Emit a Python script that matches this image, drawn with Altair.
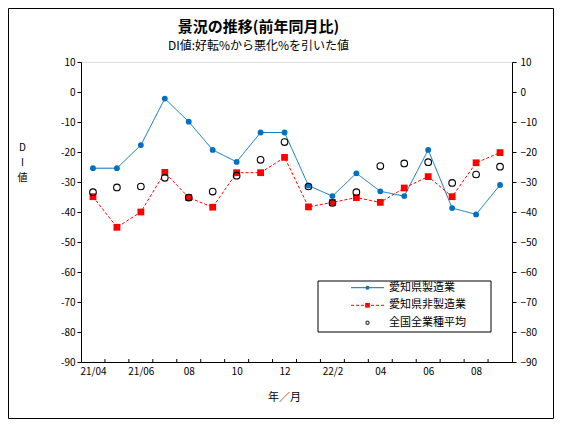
import altair as alt
import pandas as pd

# ---------------- data ----------------
tick_labels = ["21/04", "", "21/06", "", "08", "", "10", "", "12", "",
               "22/2", "", "04", "", "06", "", "08", ""]
series_names = ["愛知県製造業", "愛知県非製造業", "全国全業種平均"]
mfg = [-25.4, -25.4, -17.7, -2.2, -9.9, -19.3, -23.3, -13.5, -13.5,
       -31.2, -34.7, -27.1, -33.1, -34.7, -19.3, -38.7, -40.8, -31.0]
nonmfg = [-34.9, -45.1, -40.0, -26.8, -35.2, -38.4, -26.9, -26.9, -21.8,
          -38.3, -36.8, -35.2, -36.8, -32.0, -28.2, -34.9, -23.6, -20.2]
national = [-33.4, -31.8, -31.5, -28.6, -35.2, -33.2, -27.9, -22.6, -16.7,
            -31.5, -37.0, -33.4, -24.7, -23.8, -23.4, -30.3, -27.5, -24.9]
y_ticks = [-90, -80, -70, -60, -50, -40, -30, -20, -10, 0, 10]

n = len(tick_labels)
idx = list(range(n))
df = pd.DataFrame({
    "idx": idx * 3,
    "value": mfg + nonmfg + national,
    "series": [s for s in series_names for _ in idx],
})
bounds = pd.DataFrame({"b": [i + 0.5 for i in range(n - 1)]})

# ---------------- style ----------------
W, H = 431, 300
FONT = "Noto Sans CJK JP"
BLUE = "#0070c0"
RED = "#ff0000"

xscale = alt.Scale(domain=[-0.5, n - 0.5], nice=False, zero=False)
yscale = alt.Scale(domain=[-90, 10], nice=False, zero=False)
label_js = "[" + ",".join("'%s'" % t for t in tick_labels) + "]"

xaxis = alt.Axis(
    values=[i for i, t in enumerate(tick_labels) if t],
    labelExpr=label_js + "[datum.value]",
    ticks=False, grid=False, domainColor="black", domainWidth=1,
    labelFont=FONT, labelFontSize=10, labelColor="black", labelPadding=4,
    title="年／月", titleFont=FONT, titleFontSize=11, titleFontWeight="normal",
    titleColor="black", titleX=203, titleY=35, titleAlign="center",
    titleBaseline="middle",
)
yaxis_left = alt.Axis(
    values=y_ticks, orient="left", grid=False,
    labelExpr="replace(datum.label, '−', '-')",
    domainColor="black", tickColor="black", tickSize=4, labelPadding=2,
    labelFont=FONT, labelFontSize=10, labelColor="black",
    title=["D", "I", "値"], titleAngle=0, titleX=-59, titleY=80,
    titleAlign="center", titleBaseline="top", titleFont=FONT,
    titleFontSize=10, titleFontWeight="normal", titleColor="black",
    titleLineHeight=15,
)
yaxis_right = alt.Axis(
    values=y_ticks, orient="right", grid=False,
    domainColor="black", tickColor="black", tickSize=4, labelPadding=4,
    labelFont=FONT, labelFontSize=10, labelColor="black", title=None,
)

X = alt.X("idx:Q", scale=xscale, axis=xaxis)
Xn = alt.X("idx:Q", scale=xscale, axis=None)
Yn = alt.Y("value:Q", scale=yscale, axis=None)

base = alt.Chart(df)

lines = base.transform_filter(
    alt.FieldOneOfPredicate(field="series", oneOf=series_names[:2])
).mark_line(strokeWidth=1).encode(
    x=X,
    y=alt.Y("value:Q", scale=yscale, axis=yaxis_left),
    color=alt.Color("series:N", scale=alt.Scale(domain=series_names, range=[BLUE, RED, "black"]), legend=None),
    strokeDash=alt.StrokeDash("series:N", scale=alt.Scale(domain=series_names, range=[[1, 0], [3, 2], [1, 0]]), legend=None),
    order="idx:Q",
)

blue_pts = base.transform_filter(alt.datum.series == series_names[0]).mark_point(
    shape="circle", filled=True, size=34, color=BLUE, opacity=1
).encode(x=Xn, y=Yn)

red_pts = base.transform_filter(alt.datum.series == series_names[1]).mark_point(
    shape="square", filled=True, size=46, color=RED, opacity=1
).encode(x=Xn, y=Yn)

nat_pts = base.transform_filter(alt.datum.series == series_names[2]).mark_point(
    shape="circle", filled=False, size=44, color="black", strokeWidth=1.1, opacity=1
).encode(x=Xn, y=Yn)

right_axis = base.mark_point(opacity=0).encode(
    x=Xn, y=alt.Y("value:Q", scale=yscale, axis=yaxis_right)
)

xticks = alt.Chart(bounds).mark_rule(color="black", strokeWidth=1).encode(
    x=alt.X("b:Q", scale=xscale, axis=None),
    y=alt.value(H), y2=alt.value(H - 3),
)

# ---------------- legend (drawn by hand) ----------------
one = alt.Data(values=[{}])
LX0, LX1, LY0, LY1 = 237, 410, 219, 270
rows = [225.7, 243.3, 260.7]
legend_layers = [
    alt.Chart(one).mark_rect(fill="white", stroke="black", strokeWidth=1).encode(
        x=alt.value(LX0), x2=alt.value(LX1), y=alt.value(LY0), y2=alt.value(LY1)
    )
]
legend_layers.append(alt.Chart(one).mark_rule(color=BLUE, strokeWidth=1).encode(
    x=alt.value(270), x2=alt.value(303), y=alt.value(rows[0])))
legend_layers.append(alt.Chart(one).mark_point(shape="circle", filled=True, size=16, color=BLUE, opacity=1).encode(
    x=alt.value(286.5), y=alt.value(rows[0])))
legend_layers.append(alt.Chart(one).mark_rule(color=RED, strokeWidth=1, strokeDash=[3, 2]).encode(
    x=alt.value(270), x2=alt.value(303), y=alt.value(rows[1])))
legend_layers.append(alt.Chart(one).mark_point(shape="square", filled=True, size=22, color=RED, opacity=1).encode(
    x=alt.value(286.5), y=alt.value(rows[1])))
legend_layers.append(alt.Chart(one).mark_point(shape="circle", filled=False, size=10, color="#404040", strokeWidth=1.2, opacity=1).encode(
    x=alt.value(286.5), y=alt.value(rows[2])))
for r, name in zip(rows, series_names):
    legend_layers.append(alt.Chart(one).mark_text(
        align="left", baseline="middle", font=FONT, fontSize=11, color="black"
    ).encode(x=alt.value(308), y=alt.value(r), text=alt.value(name)))

border = alt.Chart(one).mark_rect(fillOpacity=0, stroke="black", strokeWidth=1).encode(
    x=alt.value(-72.5), x2=alt.value(472.5), y=alt.value(-53.5), y2=alt.value(356.5)
)

chart = alt.layer(
    lines, blue_pts, red_pts, nat_pts, right_axis, xticks, *legend_layers, border
).resolve_axis(x="independent", y="independent").properties(
    width=W, height=H,
    autosize=alt.AutoSizeParams(type="none"),
    padding={"left": 73, "top": 54, "right": 42, "bottom": 57},
    title=alt.TitleParams(
        text="景況の推移(前年同月比)",
        subtitle="DI値:好転%から悪化%を引いた値",
        font=FONT, fontSize=15, fontWeight="bold", color="black",
        subtitleFont=FONT, subtitleFontSize=12, subtitleColor="black",
        anchor="middle", dx=-38, offset=-44, subtitlePadding=6,
    ),
).configure_view(stroke="#b0b0b0", strokeWidth=1).configure(background="white")

chart.save("out.html", embed_options={"renderer": "svg", "actions": False})
